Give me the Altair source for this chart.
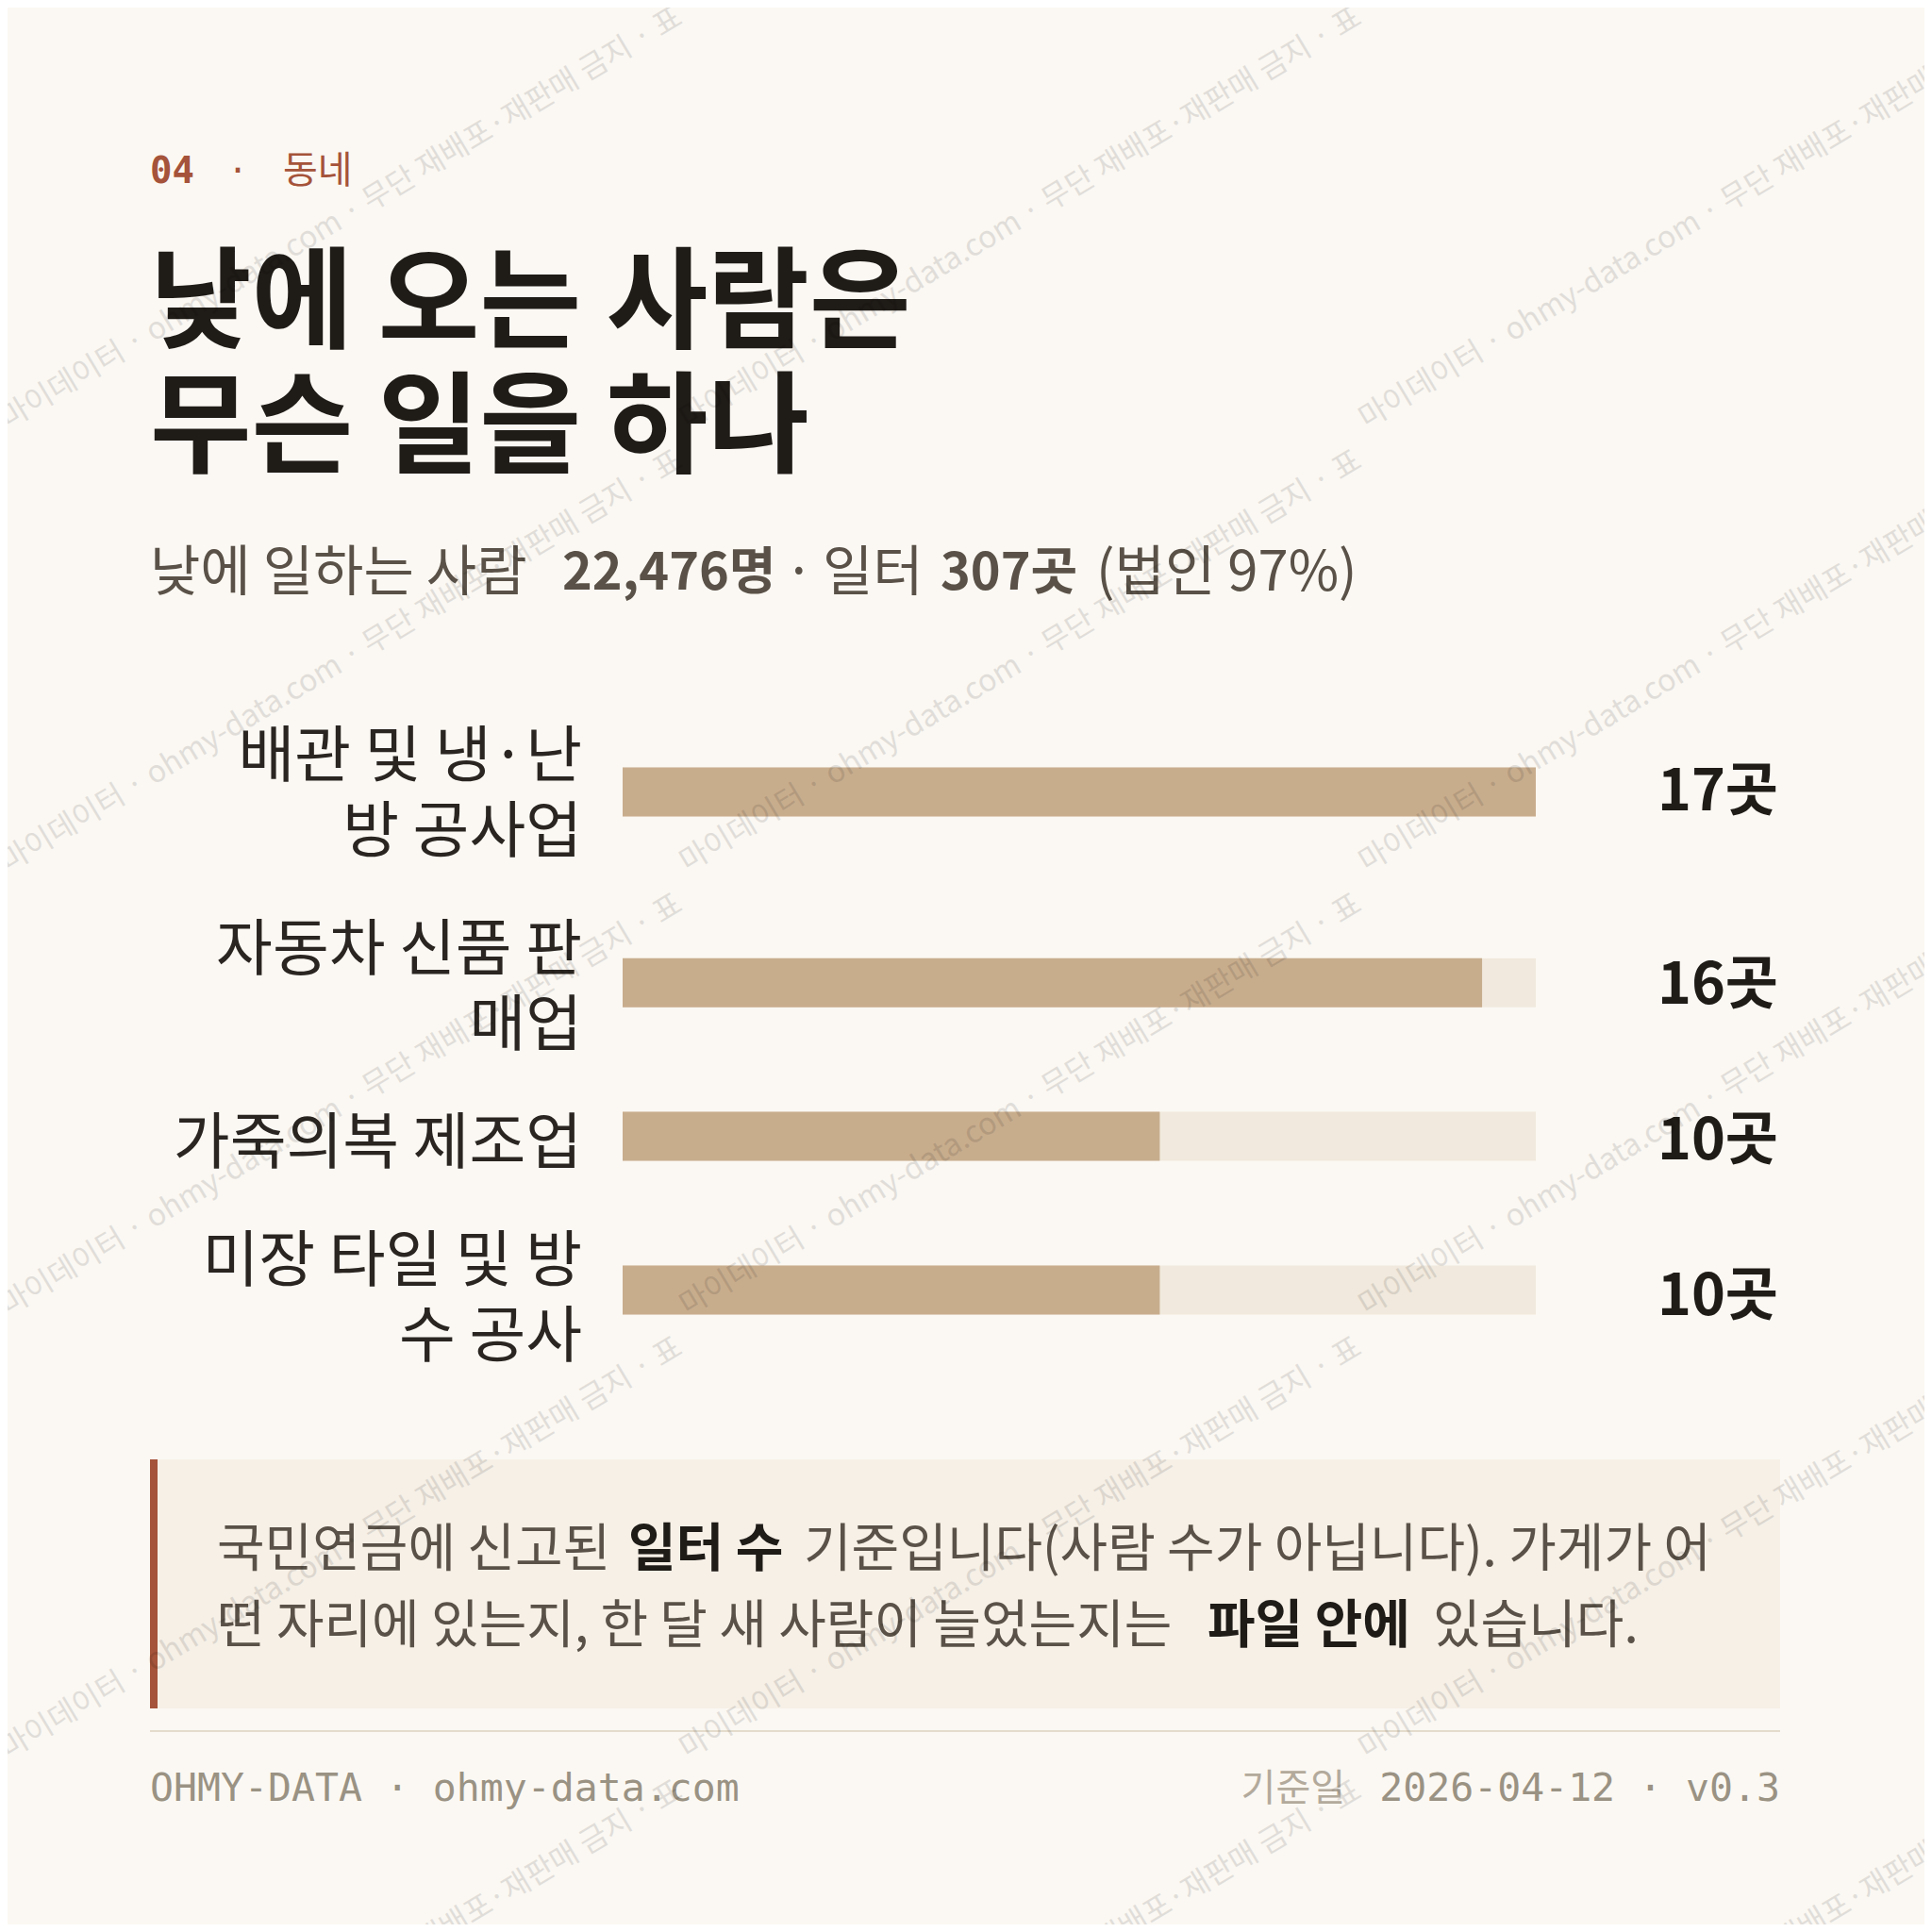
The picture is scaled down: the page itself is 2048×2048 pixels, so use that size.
import altair as alt
import pandas as pd

# ---------------- data ----------------
categories = ["배관 및 냉·난방 공사업", "자동차 신품 판매업", "가죽의복 제조업", "미장 타일 및 방수 공사"]
label_lines = [["배관 및 냉·난", "방 공사업"], ["자동차 신품 판", "매업"], ["가죽의복 제조업"], ["미장 타일 및 방", "수 공사"]]
counts = [17, 16, 10, 10]
unit = "곳"

kicker_num = "04"
kicker_sep = "·"
kicker_word = "동네"
title_lines = ["낮에 오는 사람은", "무슨 일을 하나"]
subtitle_texts = ["낮에 일하는 사람", "22,476명", "·", "일터", "307곳", "(법인 97%)"]
subtitle_bold = [False, True, False, False, True, False]
note1_texts = ["국민연금에 신고된", "일터 수", "기준입니다(사람 수가 아닙니다). 가게가 어"]
note1_bold = [False, True, False]
note2_texts = ["떤 자리에 있는지, 한 달 새 사람이 늘었는지는", "파일 안에", "있습니다."]
note2_bold = [False, True, False]
footer_left = "OHMY-DATA · ohmy-data.com"
footer_date_label = "기준일"
footer_right = "2026-04-12 · v0.3"
watermark_text = "마이데이터 · ohmy-data.com · 무단 재배포·재판매 금지 · 표"

# ---------------- style / layout ----------------
KR = "Noto Sans CJK KR"
MONO = "DejaVu Sans Mono, Noto Sans CJK KR"
BG = "#FBF8F3"
INK = "#1F1B17"
GRAY = "#5A5248"
ACCENT = "#A5533A"
BAR = "#C8AD8D"
TRACK = "#F1E9DD"
NOTE_BG = "#F6F0E7"
RULE = "#E4DCCD"
FOOT = "#9A9283"

W = H = 2032
LINE = 80.0          # px per label line
GAP = 0.5625         # gap between rows, in label lines
TOP = 725.5          # top of bar block (px)
X0, X1 = 652, 1620   # bar track pixel extent

# row centres from the label line counts (like a text flow)
centres, acc = [], 0.0
for lines in label_lines:
    n = len(lines)
    centres.append(acc + n / 2 + GAP / 2)
    acc += n + GAP
total_units = acc

df = pd.DataFrame({
    "category": categories,
    "label": ["\n".join(l) for l in label_lines],
    "nlines": [len(l) for l in label_lines],
    "count": counts,
    "pos": centres,
    "vlabel": [f"{c}{unit}" for c in counts],
})
df["track"] = max(counts)
# first text line of a wrapped label sits half a line per extra line above the row centre
df["lpos"] = df["pos"] - (df["nlines"] - 1) / 2

xs = alt.Scale(domain=[0, max(counts)], range=[X0, X1])
ys = alt.Scale(domain=[0, total_units], range=[TOP, TOP + total_units * LINE])

base = alt.Chart(df)
track = base.mark_bar(orient="horizontal", size=52, color=TRACK).encode(
    x=alt.X("track:Q", scale=xs, axis=None),
    y=alt.Y("pos:Q", scale=ys, axis=None),
)
bars = base.mark_bar(orient="horizontal", size=52, color=BAR).encode(
    x=alt.X("count:Q", scale=xs, axis=None),
    y=alt.Y("pos:Q", scale=ys, axis=None),
)
cat_labels = base.mark_text(
    align="right", baseline="middle", font=KR, fontSize=65, color="#2A2520",
    lineBreak="\n", lineHeight=LINE, dy=7,
).encode(
    x=alt.value(609),
    y=alt.Y("lpos:Q", scale=ys, axis=None),
    text="label:N",
)
val_labels = base.mark_text(
    align="right", baseline="middle", font=KR, fontSize=61, fontWeight="bold", color=INK, dy=5,
).encode(
    x=alt.value(1877),
    y=alt.Y("pos:Q", scale=ys, axis=None),
    text="vlabel:N",
)

one = pd.DataFrame({"k": [0]})


def txt(text, x, y, size, color, bold=False, font=KR, align="left"):
    return alt.Chart(one).mark_text(
        text=text, align=align, baseline="middle", font=font, fontSize=size,
        fontWeight="bold" if bold else "normal", color=color,
    ).encode(x=alt.value(x), y=alt.value(y))


def box(x, x2, y, y2, color):
    return alt.Chart(one).mark_rect(color=color).encode(
        x=alt.value(x), x2=alt.value(x2), y=alt.value(y), y2=alt.value(y2)
    )


layers = []
# note box
layers.append(box(151, 1879, 1539, 1803, NOTE_BG))
layers.append(box(151, 159, 1539, 1803, ACCENT))
# footer rule
layers.append(alt.Chart(one).mark_rule(color=RULE, strokeWidth=2).encode(
    x=alt.value(151), x2=alt.value(1879), y=alt.value(1827)))

layers += [track, bars, cat_labels, val_labels]

# kicker
layers.append(txt(kicker_num, 151, 174, 39, ACCENT, bold=True, font=MONO))
layers.append(txt(kicker_sep, 244, 174, 36, ACCENT, align="center", font=MONO))
layers.append(txt(kicker_word, 292, 174, 40, ACCENT))
# title
for line, y in zip(title_lines, [317, 449]):
    layers.append(txt(line, 151, y, 117, INK, bold=True))
# subtitle
for t, b, x in zip(subtitle_texts, subtitle_bold, [151, 588, 839, 864, 989, 1154]):
    size = 54 if b else 58
    layers.append(txt(t, x, 601, size, GRAY, bold=b, align="center" if t == "·" else "left"))
# note
for t, b, x in zip(note1_texts, note1_bold, [222, 658, 844]):
    layers.append(txt(t, x, 1635, 55, INK if b else GRAY, bold=b))
for t, b, x in zip(note2_texts, note2_bold, [222, 1272, 1511]):
    layers.append(txt(t, x, 1716, 55, INK if b else GRAY, bold=b))
# footer
layers.append(txt(footer_left, 151, 1889, 41.5, FOOT, font=MONO))
layers.append(txt(footer_right, 1879, 1889, 41.5, FOOT, font=MONO, align="right"))
layers.append(txt(footer_date_label, 1418, 1889, 40, "#B3AA9C", align="right"))

# watermark tiles (decorative overlay)
wm = pd.DataFrame([
    {"wx": 354 + 720 * i, "wy": 223 + 470 * j, "t": watermark_text}
    for i in range(3) for j in range(5)
])
layers.append(alt.Chart(wm).mark_text(
    angle=329, align="center", baseline="middle", font=KR, fontSize=32,
    color="#000000", opacity=0.1,
).encode(
    x=alt.X("wx:Q", scale=None, axis=None),
    y=alt.Y("wy:Q", scale=None, axis=None),
    text="t:N",
))

chart = alt.layer(*layers).resolve_scale(x="independent", y="independent").properties(
    width=W, height=H, autosize="none", padding=0, background=BG,
).configure_view(stroke=None)

chart.save("out.html", embed_options={"renderer": "svg", "actions": False})
